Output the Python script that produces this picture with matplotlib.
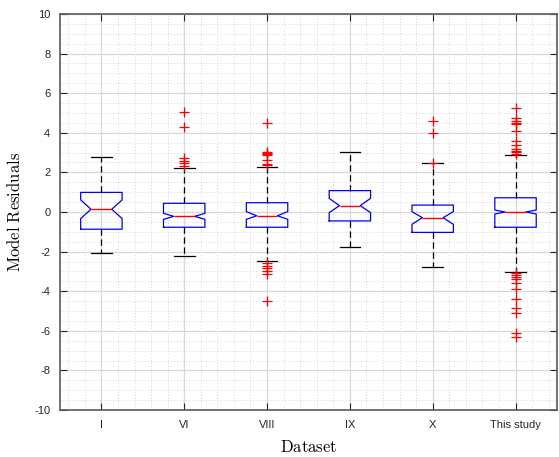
import numpy as np
import matplotlib
matplotlib.use('Agg')
import matplotlib.pyplot as plt
from matplotlib.ticker import MultipleLocator

# dataset names and box statistics
datasets = ['I', 'VI', 'VIII', 'IX', 'X', 'This study']
medians = [0.14, -0.22, -0.19, 0.32, -0.29, 0.0]
q1 = [-0.87, -0.77, -0.77, -0.45, -1.03, -0.77]
q3 = [0.99, 0.44, 0.47, 1.08, 0.35, 0.72]
notch_lo = [-0.33, -0.37, -0.37, -0.03, -0.62, -0.1]
notch_hi = [0.61, -0.07, 0.02, 0.69, 0.02, 0.1]
whisk_lo = [-2.05, -2.24, -2.46, -1.77, -2.79, -3.01]
whisk_hi = [2.78, 2.2, 2.26, 3.01, 2.46, 2.88]
outliers = [
    [],
    [5.07, 4.31, 2.74, 2.59, 2.46, 2.34],
    [4.51, 3.05, 3.0, 2.95, 2.9, 2.63, 2.41, 2.36,
     -2.59, -2.73, -2.85, -2.98, -3.13, -4.48],
    [],
    [4.6, 3.97, 2.49],
    [5.27, 4.75, 4.6, 4.5, 4.45, 4.08, 3.58, 3.4, 3.2, 3.1, 3.05, 2.95,
     -3.06, -3.2, -3.3, -3.4, -3.6, -3.9, -4.4, -4.87, -5.08, -6.13, -6.3],
]

plt.rcParams['font.family'] = ['Liberation Sans', 'DejaVu Sans']
plt.rcParams['mathtext.fontset'] = 'cm'

stats = []
for i in range(len(datasets)):
    stats.append(dict(med=medians[i], q1=q1[i], q3=q3[i],
                      cilo=notch_lo[i], cihi=notch_hi[i],
                      whislo=whisk_lo[i], whishi=whisk_hi[i],
                      fliers=outliers[i], label=datasets[i]))

fig = plt.figure(figsize=(5.59, 4.57), dpi=100)
ax = fig.add_axes([0.1073, 0.1028, 0.889, 0.8666])

ax.bxp(stats, positions=range(1, len(datasets) + 1), widths=0.5,
       shownotches=True, patch_artist=False,
       boxprops=dict(color='#0000ff', linewidth=0.9),
       medianprops=dict(color='#ff0000', linewidth=1.0),
       whiskerprops=dict(color='black', linewidth=0.9, linestyle=(0, (5, 3))),
       capprops=dict(color='black', linewidth=0.9),
       flierprops=dict(marker='+', markeredgecolor='#ff0000', markersize=7,
                       markeredgewidth=0.9, linestyle='none'))

ax.set_xlim(0.5, 6.5)
ax.set_ylim(-10, 10)
ax.yaxis.set_major_locator(MultipleLocator(2))
ax.yaxis.set_minor_locator(MultipleLocator(0.5))
ax.xaxis.set_minor_locator(MultipleLocator(0.2))
ax.set_axisbelow(True)
ax.grid(True, which='major', color='#d8d8d8', linewidth=0.9)
ax.grid(True, which='minor', color='#c8c8c8', linestyle=(0, (1, 2.5)), linewidth=0.6)

ax.tick_params(which='major', direction='in', length=5, width=0.8, colors='#262626',
               top=True, right=True, labelsize=8, pad=7)
ax.tick_params(which='minor', length=0, top=True, right=True)
ax.set_yticks(np.arange(-10, 11, 2))
ax.set_yticklabels([str(v) for v in range(-10, 11, 2)])
for s in ax.spines.values():
    s.set_color('#5a5a5a')
    s.set_linewidth(1.2)

ax.set_xlabel(r'$\mathrm{Dataset}$', fontsize=12, labelpad=7)
ax.set_ylabel(r'$\mathrm{Model\ Residuals}$', fontsize=12, labelpad=8)

fig.savefig('out.png', dpi=100)
